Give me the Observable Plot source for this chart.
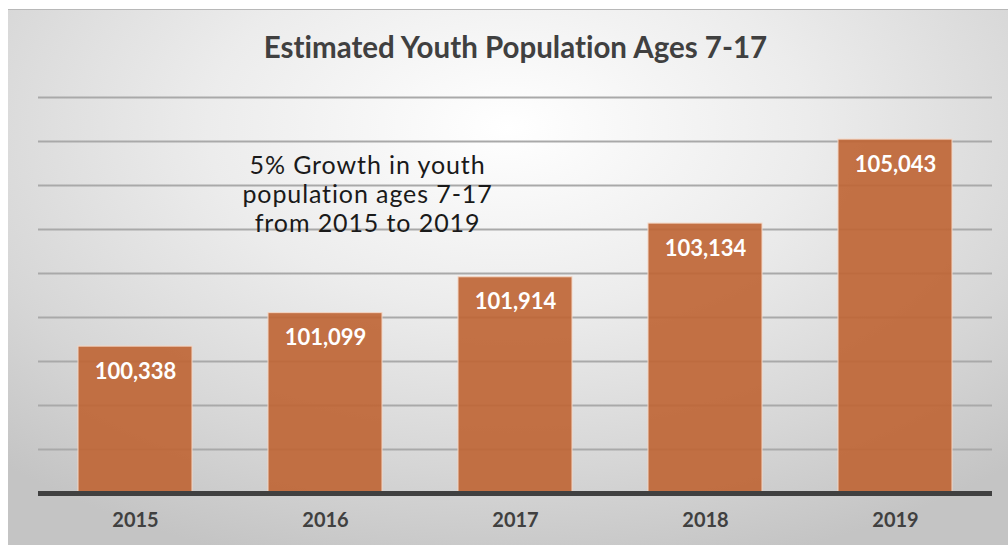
<!DOCTYPE html>
<html>
<head>
<meta charset="utf-8">
<script src="https://cdn.jsdelivr.net/npm/d3@7"></script>
<script src="https://cdn.jsdelivr.net/npm/@observablehq/plot@0.6"></script>
<style>
  html, body { margin: 0; padding: 0; background: #ffffff; }
  #bg {
    position: absolute; left: 8px; top: 9px; width: 1000px; height: 536px;
    border-top: 1px solid #b8b8b8;
    background: radial-gradient(ellipse 75% 85% at 50% 22%, #ffffff 0%, #ececec 40%, #d6d6d6 75%, #c4c4c4 100%);
  }
  #chart { position: absolute; left: 0; top: 0; }
  #chart svg text { font-variant-ligatures: none; }
</style>
</head>
<body>
<div id="bg"></div>
<div id="chart"></div>
<script>
const years = ["2015", "2016", "2017", "2018", "2019"];
const population = [100338, 101099, 101914, 103134, 105043];
const gridValues = [98000, 99000, 100000, 101000, 102000, 103000, 104000, 105000, 106000];
const titleText = "Estimated Youth Population Ages 7-17";
const noteText = "5% Growth in youth\npopulation ages 7-17\nfrom 2015 to 2019";

const data = years.map((y, i) => ({year: y, value: population[i]}));
const fmt = d3.format(",");

const chart = Plot.plot({
  width: 1008,
  height: 545,
  marginLeft: 38,
  marginRight: 16,
  marginTop: 97,
  marginBottom: 52,
  style: {background: "transparent", fontFamily: "Lato, 'DejaVu Sans', sans-serif", overflow: "visible"},
  x: {domain: years, paddingInner: 0.4, paddingOuter: 0.2, label: null},
  y: {domain: [97000, 106000], axis: null},
  marks: [
    Plot.ruleY(gridValues, {stroke: "#a9a9a9", strokeWidth: 2}),
    Plot.barY(data, {x: "year", y1: 97000, y2: "value", fill: "#bf6636", fillOpacity: 0.92, stroke: "#f4d6c4", strokeWidth: 1}),
    Plot.ruleY([97000], {stroke: "#404040", strokeWidth: 5}),
    Plot.text(data, {x: "year", y: "value", text: d => fmt(d.value), dy: 25, fill: "#ffffff", fontSize: 22, fontWeight: "bold", lineAnchor: "middle"}),
    Plot.text([titleText], {frameAnchor: "top", dy: -49, text: d => d, fontSize: 29.5, fontWeight: "bold", fill: "#404040", lineAnchor: "middle"}),
    Plot.text([noteText], {frameAnchor: "top-left", dx: 329, dy: 96, text: d => d, fontSize: 25, fill: "#1a1a1a", lineAnchor: "middle", textAnchor: "middle", lineHeight: 1.16}),
    Plot.axisX({tickSize: 0, tickPadding: 19, fontSize: 20, fontWeight: "bold", fill: "#404040", label: null})
  ]
});
d3.select(chart).selectAll("text")
  .filter(function() { return this.textContent.indexOf("Growth") >= 0; })
  .style("letter-spacing", "0.9px");
document.getElementById("chart").appendChild(chart);
</script>
</body>
</html>
